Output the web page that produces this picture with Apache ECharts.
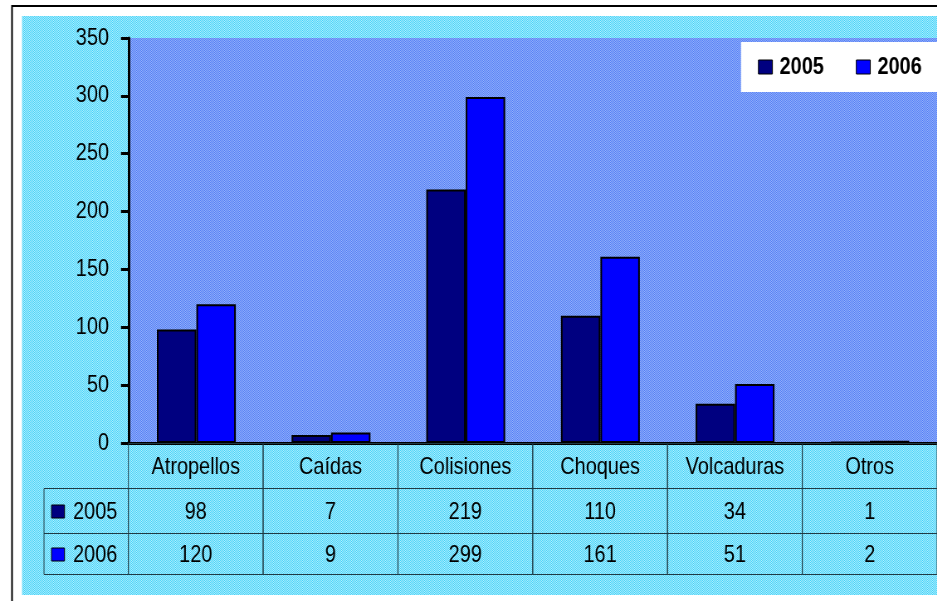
<!DOCTYPE html>
<html lang="es">
<head>
<meta charset="UTF-8" />
<title>Accidentes 2005 - 2006</title>
<script src="https://cdn.jsdelivr.net/npm/echarts@6/dist/echarts.min.js"></script>
<style>
  html, body { margin: 0; padding: 0; background: #fff; overflow: hidden; }
  #main { height: 601px; transform-origin: 0 0; }
</style>
</head>
<body>
<div id="main"></div>
<script>
// datos
var categories = ['Atropellos', 'Caídas', 'Colisiones', 'Choques', 'Volcaduras', 'Otros'];
var years = ['2005', '2006'];
var values2005 = [98, 7, 219, 110, 34, 1];
var values2006 = [120, 9, 299, 161, 51, 2];
var yMin = 0, yMax = 350, yStep = 50;

var colors = ['#000080', '#0000ff'];
var FONT = "'Liberation Sans', Arial, sans-serif";

// el original usa una fuente estrecha (Arial Narrow): se dibuja mas ancho y se comprime en horizontal
var S = 0.83;
function X(v) { return v / S; }
var LEGEND_COL = 85 / (815 / 6); // ancho de la columna de leyenda, en anchos de categoria
var TABLE_ROWS = 2.91;           // la ultima fila de la tabla es algo mas baja

var dom = document.getElementById('main');
dom.style.width = X(937) + 'px';
dom.style.transform = 'scaleX(' + S + ')';

// patron tramado (tipo Excel)
function checker(a, b) {
  var c = document.createElement('canvas');
  c.width = 2; c.height = 2;
  var ctx = c.getContext('2d');
  ctx.fillStyle = b; ctx.fillRect(0, 0, 2, 2);
  ctx.fillStyle = a; ctx.fillRect(0, 0, 1, 1); ctx.fillRect(1, 1, 1, 1);
  return { type: 'pattern', image: c, repeat: 'repeat', scaleX: 1 / S, scaleY: 1 };
}
var plotFill = checker('#4f7cf5', '#9ab4fc');
var outerFill = checker('#3fd0f8', '#b8f2ff');

// celdas de la tabla de datos
var rows = [values2005, values2006];
var cells = [];
categories.forEach(function (c, i) { cells.push([i, 0, c]); });
years.forEach(function (y, r) {
  cells.push([-1, r + 1, y]);
  rows[r].forEach(function (v, i) { cells.push([i, r + 1, String(v)]); });
});

function py(v) { return Math.round(v) + 0.5; }

function renderCell(params, api) {
  var cell = cells[params.dataIndex];
  var col = cell[0], row = cell[1];
  var x0 = col < 0 ? -LEGEND_COL : col;
  var x1 = col < 0 ? 0 : col + 1;
  var p0 = api.coord([x0, row]);
  var p1 = api.coord([x1, Math.min(row + 1, TABLE_ROWS)]);
  var l = p0[0], t = py(p0[1]), r = p1[0], b = py(p1[1]);
  var children = [{
    type: 'rect',
    shape: { x: l, y: t, width: r - l, height: b - t },
    style: { fill: 'none', stroke: '#1f3a44', lineWidth: 1 }
  }];
  var cy = (t + b) / 2 + 1;
  if (col < 0) {
    children.push({
      type: 'rect',
      shape: { x: l + X(7.5), y: cy - 7, width: X(13), height: 13 },
      style: { fill: colors[row - 1], stroke: '#000', lineWidth: 1 }
    });
    children.push({
      type: 'text',
      style: { text: cell[2], x: l + X(29), y: cy, align: 'left', verticalAlign: 'middle',
               font: '24px ' + FONT, fill: '#000' }
    });
  } else {
    children.push({
      type: 'text',
      style: { text: cell[2], x: (l + r) / 2, y: cy, align: 'center', verticalAlign: 'middle',
               font: '24px ' + FONT, fill: '#000' }
    });
  }
  return { type: 'group', children: children };
}

var myChart = echarts.init(dom);
myChart.setOption({
  backgroundColor: '#fff',
  animation: false,
  graphic: [
    { type: 'rect', z: -10, shape: { x: X(12), y: 6, width: 2000, height: 1000 },
      style: { fill: '#fff', stroke: '#000', lineWidth: 2 } },
    { type: 'rect', z: -9, shape: { x: X(22), y: 16, width: 2000, height: 579 },
      style: { fill: outerFill } }
  ],
  legend: {
    data: years,
    orient: 'horizontal',
    left: X(741),
    top: 42,
    width: X(220),
    padding: [13, X(30), 13, X(17)],
    backgroundColor: '#fff',
    itemWidth: X(14),
    itemHeight: 14,
    itemGap: X(32),
    icon: 'rect',
    itemStyle: { borderColor: '#000', borderWidth: 1 },
    textStyle: { fontFamily: FONT, fontSize: 24, fontWeight: 'bold', color: '#000', padding: [0, 0, 0, X(3)] }
  },
  grid: [
    { left: X(129), top: 38, right: X(-8), bottom: 158, show: true, backgroundColor: plotFill, borderWidth: 0 },
    { left: X(44), top: 443, right: X(-8), bottom: 27 }
  ],
  xAxis: [
    {
      type: 'category',
      gridIndex: 0,
      data: categories,
      axisLine: { lineStyle: { color: '#000', width: 3 } },
      axisTick: { show: false },
      axisLabel: { show: false }
    },
    { type: 'value', gridIndex: 1, min: -LEGEND_COL, max: categories.length, show: false }
  ],
  yAxis: [
    {
      type: 'value',
      gridIndex: 0,
      min: yMin,
      max: yMax,
      interval: yStep,
      axisLine: { show: true, lineStyle: { color: '#000', width: 3 } },
      axisTick: { show: true, length: X(8), lineStyle: { color: '#000', width: 3 } },
      splitLine: { show: false },
      axisLabel: { margin: X(20), fontFamily: FONT, fontSize: 24, color: '#000' }
    },
    { type: 'value', gridIndex: 1, min: 0, max: TABLE_ROWS, inverse: true, show: false }
  ],
  series: [
    {
      name: '2005', type: 'bar', data: values2005, barWidth: '29.3%', barGap: '0%',
      itemStyle: { color: colors[0], borderColor: '#000', borderWidth: 2 }
    },
    {
      name: '2006', type: 'bar', data: values2006, barWidth: '29.3%', barGap: '0%',
      itemStyle: { color: colors[1], borderColor: '#000', borderWidth: 2 }
    },
    {
      type: 'custom',
      xAxisIndex: 1,
      yAxisIndex: 1,
      renderItem: renderCell,
      data: cells.map(function (c) { return [c[0], c[1]]; }),
      silent: true,
      z: 3
    }
  ]
});
</script>
</body>
</html>
